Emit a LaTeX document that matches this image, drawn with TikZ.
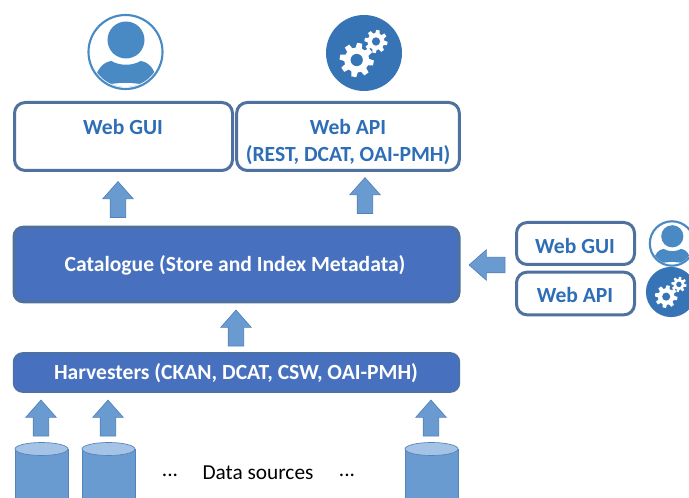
\documentclass[tikz,border=0pt]{standalone}
\usepackage{fontspec}
\setmainfont{Carlito}
\usetikzlibrary{shapes.arrows}
\definecolor{boxline}{RGB}{78,113,158}
\definecolor{boxtext}{RGB}{46,110,182}
\definecolor{solidblue}{RGB}{71,113,190}
\definecolor{arrowblue}{RGB}{106,155,208}
\definecolor{arrowline}{RGB}{84,130,186}
\definecolor{drumtop}{RGB}{165,195,229}
\definecolor{usericon}{RGB}{74,138,196}
\definecolor{gearicon}{RGB}{54,116,182}
\newcommand{\gearwheel}[3]{
  \begin{scope}[shift={(#1,#2)},scale=#3]
    \fill[white] (0,0) circle (0.74);
    \foreach \a in {0,45,...,315}
      \fill[white,rotate=\a+10] (-0.2,0.6) -- (-0.15,1) -- (0.15,1) -- (0.2,0.6) -- cycle;
    \fill[gearicon] (0,0) circle (0.36);
  \end{scope}
}
\tikzset{
  webbox/.style={draw=boxline,line width=2.25pt,fill=white,rounded corners=8pt,inner sep=0pt},
  solidbox/.style={draw=boxline,fill=solidblue,rounded corners=7pt,inner sep=0pt},
  boxlabel/.style={font=\fontsize{16.2}{20.25}\selectfont\bfseries,text=boxtext,align=center,inner sep=0pt},
  solidlabel/.style={font=\fontsize{16.2}{20.25}\selectfont\bfseries,text=white,inner sep=0pt},
  plainlabel/.style={font=\fontsize{16}{18}\selectfont,text=black,inner sep=0pt},
  blockarrow/.style={single arrow,draw=arrowline,fill=arrowblue,line width=0.5pt,inner sep=0pt,
    text height=11.25pt,text depth=0pt,minimum width=22.5pt,minimum height=27pt,
    single arrow head extend=5.6pt,single arrow tip angle=83},
  gearsicon/.pic={
    \fill[gearicon] (0,0) circle (38);
    \gearwheel{-7.3}{7}{17}
    \gearwheel{12}{-11.5}{11.5}
  },
  usersicon/.pic={
    \draw[usericon,line width=1.6pt,fill=white] (0,0) circle (37);
    \fill[usericon] (0.5,-12) circle (18.5);
    \begin{scope}
      \clip (0,0) circle (35);
      \fill[usericon] (-32,30) .. controls (-28,16) and (-22,10) .. (-14,9)
        .. controls (-6,14) and (7,14) .. (15,9) .. controls (23,10) and (29,16) .. (32,30)
        -- (32,40) -- (-32,40) -- cycle;
      \fill[white] (-18,32.5) .. controls (-6,30.5) and (6,30.5) .. (18,32.5)
        .. controls (6,36) and (-6,36) .. (-18,32.5) -- cycle;
    \end{scope}
  },
  drumicon/.pic={
    \draw[arrowline,line width=0.5pt,fill=arrowblue] (-26.5,0) -- (-26.5,60) -- (26.5,60) -- (26.5,0) -- cycle;
    \draw[arrowline,line width=0.5pt,fill=drumtop] (0,0) ellipse [x radius=26.5,y radius=6.5];
  }
}
\begin{document}
\begin{tikzpicture}[x=0.75pt,y=0.75pt,yscale=-1,xscale=1]
    \useasboundingbox (0,0) rectangle (689,498);
    \clip (0,0) rectangle (689,498);

    % top icons
    \pic [yscale=-1] at (125.5,52) {usersicon};
    \pic [yscale=-1] at (364,53) {gearsicon};

    % boxes
    \node [webbox,minimum width=163.5pt,minimum height=51pt] (guibox) at (123.5,136.5) {};
    \node [webbox,minimum width=167pt,minimum height=51pt] (apibox) at (348,136.5) {};
    \node [solidbox,line width=2.25pt,minimum width=333.75pt,minimum height=56pt] (catalogue) at (236.5,264.5) {};
    \node [solidbox,line width=1.1pt,minimum width=334.5pt,minimum height=29.5pt] (harvesters) at (236.5,372.5) {};
    \node [webbox,minimum width=88.5pt,minimum height=31.5pt] (sidegui) at (575.5,243.5) {};
    \node [webbox,minimum width=88.5pt,minimum height=32pt] (sideapi) at (575.5,293.5) {};

    % box texts
    \node [boxlabel] (guilabel) at (123,127) {Web GUI};
    \node [boxlabel] (apilabel) at (348,142) {Web API\\(REST, DCAT, OAI-PMH)};
    \node [solidlabel] (cataloguelabel) at (235,265) {Catalogue (Store and Index Metadata)};
    \node [solidlabel] (harvesterslabel) at (236,373) {Harvesters (CKAN, DCAT, CSW, OAI-PMH)};
    \node [boxlabel] (sideguilabel) at (575,246) {Web GUI};
    \node [boxlabel] (sideapilabel) at (575,295) {Web API};

    % side icons
    \pic [scale=0.6,yscale=-1] at (672,243.5) {usersicon};
    \pic [scale=0.66,yscale=-1] at (671,292) {gearsicon};

    % block arrows
    \node [blockarrow,rotate=90] (guiarrow) at (118,204) {};
    \node [blockarrow,rotate=90] (apiarrow) at (365,200) {};
    \node [blockarrow,rotate=90] (catarrow) at (236,332.5) {};
    \node [blockarrow,rotate=180] (sidearrow) at (491.5,265) {};
    \node [blockarrow,rotate=90] (harvarrowa) at (41,422.5) {};
    \node [blockarrow,rotate=90] (harvarrowb) at (108,422.5) {};
    \node [blockarrow,rotate=90] (harvarrowc) at (431,422.5) {};

    % data sources
    \pic [yscale=-1] (sourcea) at (41.5,449) {drumicon};
    \pic [yscale=-1] (sourceb) at (108.5,449) {drumicon};
    \pic [yscale=-1] (sourcec) at (431.5,449) {drumicon};
    \node [plainlabel] (dotsa) at (170,475) {...};
    \node [plainlabel] (sourceslabel) at (258,473) {Data sources};
    \node [plainlabel] (dotsb) at (347,475) {...};
\end{tikzpicture}
\end{document}
